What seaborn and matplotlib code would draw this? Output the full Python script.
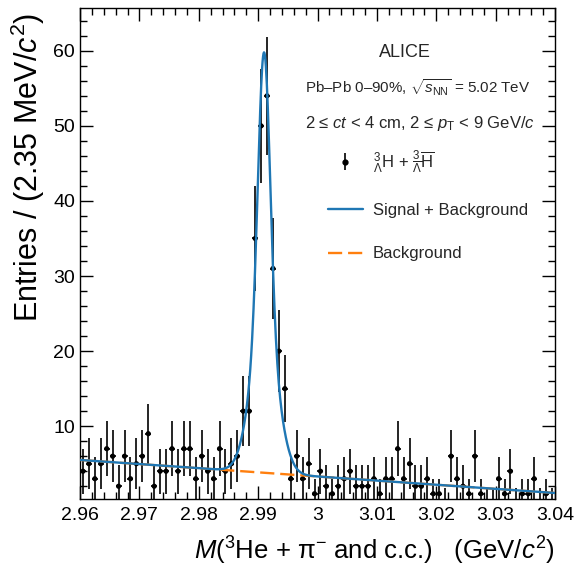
import numpy as np
import pandas as pd
import matplotlib
matplotlib.use("Agg")
import matplotlib.pyplot as plt
from matplotlib.ticker import MultipleLocator, FuncFormatter
from matplotlib.lines import Line2D
import seaborn as sns

# invariant mass histogram, 80 bins between 2.96 and 3.04 GeV/c^2
mass_lo = 2.96
mass_hi = 3.04
counts = [4, 5, 3, 5, 7, 6, 2, 6, 3, 5,
          6, 9, 2, 4, 4, 7, 4, 7, 7, 3,
          6, 4, 3, 7, 4, 5, 6, 12, 12, 35,
          50, 54, 31, 20, 15, 3, 6, 3, 5, 1,
          4, 2, 1, 2, 3, 4, 2, 2, 2, 3,
          1, 3, 3, 7, 3, 5, 2, 2, 3, 1,
          1, 0, 6, 3, 2, 1, 6, 1, 0, 0,
          3, 1, 4, 0, 1, 1, 3, 0, 1, 0]
errors = [3.0, 3.4, 2.9, 3.4, 3.7, 3.5, 2.8, 3.5, 2.9, 3.4,
          3.5, 4.0, 2.8, 3.0, 3.0, 3.7, 3.0, 3.7, 3.7, 2.9,
          3.5, 3.0, 2.9, 3.7, 3.0, 3.4, 3.5, 4.7, 4.7, 7.0,
          7.6, 7.9, 6.7, 5.5, 4.5, 2.9, 3.5, 2.9, 3.4, 2.0,
          3.0, 2.8, 2.0, 2.8, 2.9, 3.0, 2.8, 2.8, 2.8, 2.9,
          2.0, 2.9, 2.9, 3.7, 2.9, 3.4, 2.8, 2.8, 2.9, 2.0,
          2.0, 1.8, 3.5, 2.9, 2.8, 2.0, 3.5, 2.0, 1.8, 1.8,
          2.9, 2.0, 3.0, 1.8, 2.0, 2.0, 2.9, 1.8, 2.0, 1.8]

# fit result (linear background + two-gaussian signal)
bkg_at_lo = 5.5
bkg_slope = -55.0
sig_amp = 56.0
sig_mean = 2.9910
sig_core_width = 0.0010
sig_tail_width = 0.0022
sig_core_frac = 0.65

nbins = len(counts)
edges = np.linspace(mass_lo, mass_hi, nbins + 1)
df = pd.DataFrame({
    "mass": 0.5 * (edges[:-1] + edges[1:]),
    "entries": counts,
    "err": errors,
})
df["err_lo"] = np.minimum(df["err"], df["entries"])
half_bin = 0.5 * (mass_hi - mass_lo) / nbins

xfit = np.linspace(mass_lo, mass_hi, 1000)
bkg = bkg_at_lo + bkg_slope * (xfit - mass_lo)
sig = sig_amp * (sig_core_frac * np.exp(-0.5 * ((xfit - sig_mean) / sig_core_width) ** 2)
                 + (1 - sig_core_frac) * np.exp(-0.5 * ((xfit - sig_mean) / sig_tail_width) ** 2))

sns.set_theme(style="ticks")
plt.rcParams["font.family"] = ["Liberation Sans", "DejaVu Sans"]
plt.rcParams["mathtext.fontset"] = "custom"
plt.rcParams["mathtext.rm"] = "Liberation Sans"
plt.rcParams["mathtext.it"] = "Liberation Sans:italic"
plt.rcParams["mathtext.bf"] = "Liberation Sans:bold"

fig = plt.figure(figsize=(5.77, 5.70), dpi=100)
ax = fig.add_axes([80 / 577, 1 - 499 / 570, 475 / 577, 491 / 570])

ax.errorbar(df["mass"], df["entries"], yerr=[df["err_lo"], df["err"]], xerr=half_bin,
            fmt="none", ecolor="black", elinewidth=1.2, zorder=2)
sns.scatterplot(data=df[df["entries"] > 0], x="mass", y="entries", ax=ax, color="black",
                s=14, edgecolor="none", zorder=3, legend=False)

sns.lineplot(x=xfit, y=bkg, ax=ax, color="#ff7f0e", lw=1.7,
             linestyle=(0, (6, 2.5)), zorder=4)
sns.lineplot(x=xfit, y=bkg + sig, ax=ax, color="#1f77b4", lw=1.7, zorder=5)

ax.set_xlim(mass_lo, mass_hi)
ax.set_ylim(0.3, 65.7)
ax.xaxis.set_major_locator(MultipleLocator(0.01))
ax.xaxis.set_minor_locator(MultipleLocator(0.002))
ax.yaxis.set_major_locator(MultipleLocator(10))
ax.yaxis.set_minor_locator(MultipleLocator(2))
ax.xaxis.set_major_formatter(FuncFormatter(lambda v, p: f"{v:g}"))
ax.tick_params(which="both", direction="in", top=True, right=True, labelsize=14,
               color="black", labelcolor="black")
ax.tick_params(which="major", length=9.5, width=1)
ax.tick_params(which="minor", length=5, width=1)
ax.tick_params(axis="x", which="major", pad=6)
for sp in ax.spines.values():
    sp.set_color("black")
    sp.set_linewidth(1)

ax.set_xlabel(r"$M$($^{3}$He + $\mathrm{\pi}^{-}$ and c.c.)   (GeV/$c^{2}$)", fontsize=18.5,
              loc="right", color="black", labelpad=7.5)
ax.set_ylabel(r"Entries / (2.35 MeV/$c^{2}$)", fontsize=22, loc="top", color="black")
ax.yaxis.set_label_coords(-0.07, 0.99)

ax.text(0.684, 0.91, "ALICE", transform=ax.transAxes, ha="center", va="center", fontsize=13)
ax.text(0.474, 0.837, r"Pb–Pb 0–90%, $\sqrt{s_{\mathrm{NN}}}$ = 5.02 TeV",
        transform=ax.transAxes, ha="left", va="center", fontsize=10.9)
ax.text(0.474, 0.764, r"2 ≤ $ct$ < 4 cm, 2 ≤ $p_{\mathrm{T}}$ < 9 GeV/$c$",
        transform=ax.transAxes, ha="left", va="center", fontsize=12)

h_data = ax.errorbar([], [], yerr=[], fmt="o", color="black", ms=3.5, elinewidth=1.2)
h_sig = Line2D([], [], color="#1f77b4", lw=1.7)
h_bkg = Line2D([], [], color="#ff7f0e", lw=1.7, linestyle=(0, (6, 2.5)))
ax.legend([h_data, h_sig, h_bkg],
          [r"${}^{3}_{\Lambda}\mathrm{H}$ + ${}^{3}_{\overline{\Lambda}}\overline{\mathrm{H}}$",
           "Signal + Background", "Background"],
          loc="upper left", bbox_to_anchor=(0.490, 0.746), frameon=False, fontsize=12,
          handlelength=2.1, labelspacing=1.7, handletextpad=0.6, borderpad=0.4)

fig.savefig("out.png", dpi=100, facecolor="white")
